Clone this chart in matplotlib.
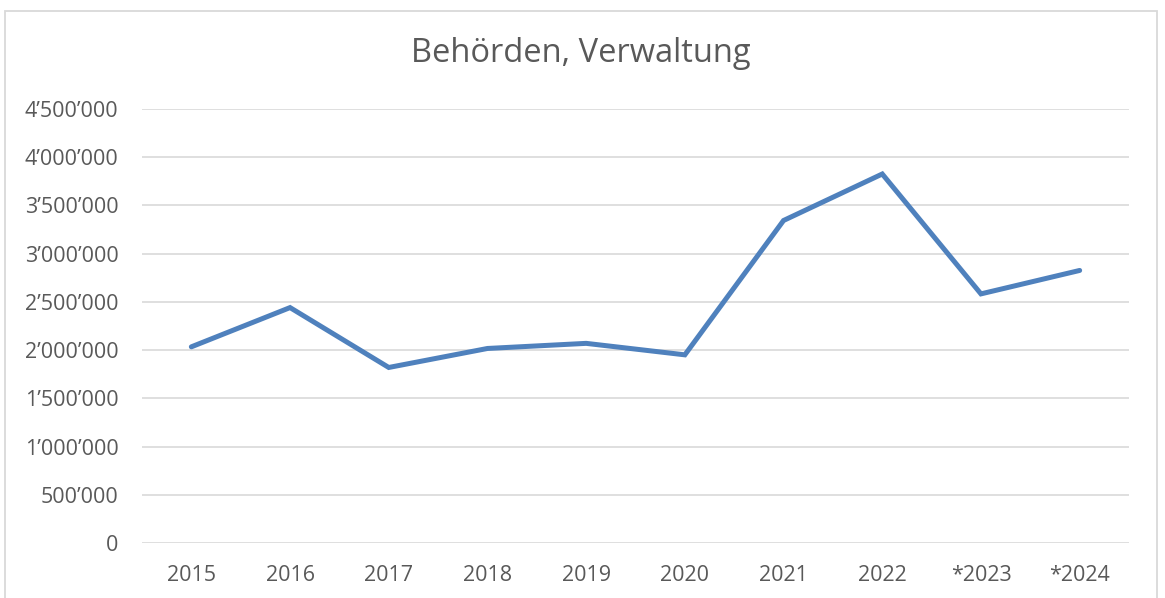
import matplotlib
matplotlib.use("Agg")
import matplotlib.pyplot as plt
from matplotlib.ticker import FuncFormatter, MultipleLocator
from matplotlib.patches import Rectangle

categories = ["2015", "2016", "2017", "2018", "2019", "2020", "2021", "2022", "*2023", "*2024"]
values = [2034000, 2441000, 1820000, 2017000, 2070000, 1951000, 3344000, 3826000, 2583000, 2826000]
title = "Behörden, Verwaltung"

plt.rcParams['font.family'] = ['Open Sans', 'DejaVu Sans']

W, H = 1165, 598
fig = plt.figure(figsize=(W / 100, H / 100), dpi=100)
fig.patch.set_facecolor("white")

# outer chart frame
fig.add_artist(Rectangle((5 / W, -0.05), (1157 - 5) / W, 1.05 - 10.5 / H,
                         transform=fig.transFigure, fill=False,
                         edgecolor="#D9D9D9", linewidth=1.3))

left, right = 142 / W, 1129 / W
bottom, top = (H - 543) / H, (H - 109) / H
ax = fig.add_axes([left, bottom, right - left, top - bottom])

x = list(range(len(categories)))
ax.plot(x, values, color="#4F81BD", linewidth=3.6, solid_capstyle="round",
        solid_joinstyle="miter", zorder=3)

ax.set_xlim(-0.5, len(categories) - 0.5)
ax.set_ylim(0, 4500000)
ax.yaxis.set_major_locator(MultipleLocator(500000))
ax.yaxis.set_major_formatter(FuncFormatter(lambda v, p: f"{int(round(v)):,}".replace(",", "\u2019")))
ax.set_xticks(x)
ax.set_xticklabels(categories)

ax.grid(axis="y", color="#D9D9D9", linewidth=1.2, zorder=0)
ax.set_axisbelow(True)
for s in ax.spines.values():
    s.set_visible(False)
ax.tick_params(axis="both", length=0, labelsize=15.5, colors="#595959")
ax.tick_params(axis="y", pad=17)
ax.tick_params(axis="x", pad=16)

fig.text(581 / W, (H - 54) / H, title, ha="center", va="center",
         fontsize=23.5, color="#595959")

fig.savefig("out.png", dpi=100)
